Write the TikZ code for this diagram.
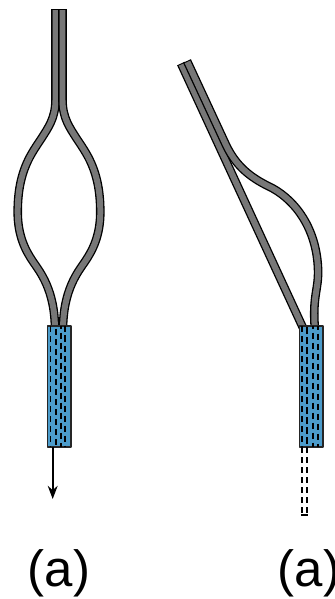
\documentclass[tikz,border=0pt]{standalone}
\usepackage{fontspec}
\setmainfont{Liberation Sans}
\usetikzlibrary{arrows.meta}
\definecolor{fibregray}{HTML}{777777}
\definecolor{sleeveblue}{HTML}{4C9CCB}
\tikzset{
	fibreout/.style={line width=4.9pt, black},
	fibrein/.style={line width=3.4pt, fibregray},
	sleeve/.style={draw=black!85, line width=0.8pt, fill=sleeveblue},
	strand/.style={line width=0.95pt, dash pattern=on 3.6pt off 2.1pt},
	caption/.style={anchor=base, font=\fontsize{29}{29}\selectfont}
}
% one fibre: black outline first, gray core on top
\newcommand{\drawfibre}[1]{
	\draw[fibreout] #1;
	\draw[fibrein, shorten <=0.6pt] #1;
}
\begin{document}
\begin{tikzpicture}[x=0.02cm, y=-0.02cm, >=Stealth, line join=round]
	\useasboundingbox (0,0) rectangle (335,599);
	% Main points of the two sleeves
	\path (47.5,326) coordinate (SA)
	(299.5,326) coordinate (SB);
	% Left: two fibres opening into a loop
	\drawfibre{(55.5,9) -- (55.5,100) .. controls (55.5,118) and (48,128) .. (41.7,138) .. controls (32,153) and (17.7,170) .. (17.7,212) .. controls (17.7,235) and (25,250) .. (33.3,262) .. controls (40,272) and (55,290) .. (55,330)}
	\drawfibre{(62.5,9) -- (62.5,100) .. controls (62.5,118) and (70,128) .. (76.3,138) .. controls (86,153) and (100.3,170) .. (100.3,212) .. controls (100.3,235) and (93,250) .. (84.7,262) .. controls (78,272) and (63,290) .. (63,330)}
	% Left sleeve with the strands running through it
	\draw[sleeve] (SA) rectangle ++(23.5,121);
	\foreach \x/\ph in {3/0,8.2/4,13.2/2,17.5/6}
	\draw[strand, dash phase=\ph] ([xshift=\x*0.02cm]SA) -- ++(0,121);
	% Pull direction
	\coordinate (pull) at (52.7,499);
	\draw[->, line width=1pt] (52.7,447) -- (pull);
	% Right: one straight fibre, one bent away from it
	\drawfibre{(181,63.5) -- (304,330)}
	\drawfibre{(187,61) -- (226,145) .. controls (236,166) and (250,177) .. (268,186) .. controls (292,197) and (316,225) .. (318,268) .. controls (319,290) and (312,295) .. (315,330)}
	% Right sleeve
	\draw[sleeve] (SB) rectangle ++(23.5,121);
	\foreach \x/\ph in {2.5/0,7.2/5,13.2/2,18.5/7}
	\draw[strand, dash phase=\ph] ([xshift=\x*0.02cm]SB) -- ++(0,121);
	% Dashed outline below the right sleeve
	\draw[strand] (302,447) -- (302,515);
	\draw[strand] (307,447) -- (307,515);
	\draw[line width=0.95pt] (301,515) -- (307.5,515);
	% Captions
	\node[caption] (capA) at (59,586) {(a)};
	\node[caption] (capB) at (309,586) {(a)};
\end{tikzpicture}
\end{document}
